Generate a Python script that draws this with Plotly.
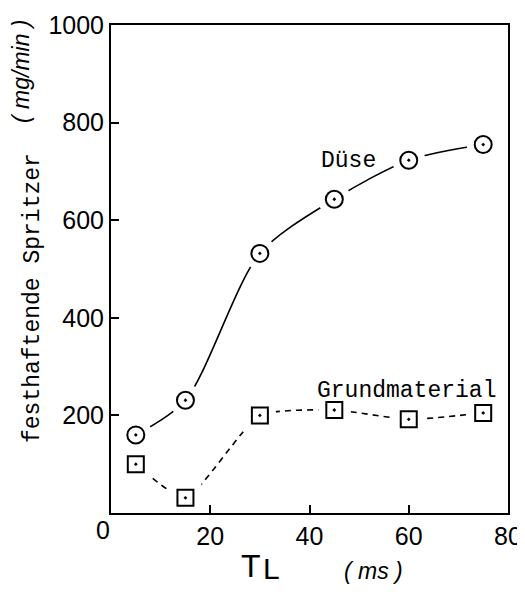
import plotly.graph_objects as go

t_ms = [5, 15, 30, 45, 60, 75]
duese = [160, 231, 532, 643, 723, 755]
grund = [100, 31, 200, 211, 192, 205]
x_ticks = [20, 40, 60, 80]
y_ticks = [200, 400, 600, 800, 1000]

tick_font = dict(family="Liberation Sans", size=25, color="black")
mono = "Liberation Mono"

# page body offset (default html margin)
OX, OY = 7, 8
W, H = 518, 584
L, T = 110 - OX, 25 - OY
R = W - (507 - OX)
B = H - (513 - OY)


def px_x(sx):
    return (sx - OX - L) / (W - L - R)


def px_y(sy):
    return (H - B - (sy - OY)) / (H - T - B)


fig = go.Figure()


def add_series(y, dash, symbol, size, smoothing):
    fig.add_trace(go.Scatter(x=t_ms, y=y, mode="lines",
                             line=dict(color="black", width=1.6, dash=dash, shape="spline", smoothing=smoothing),
                             showlegend=False, hoverinfo="skip"))
    fig.add_trace(go.Scatter(x=t_ms, y=y, mode="markers",
                             marker=dict(symbol=symbol.replace("-open-dot", ""), size=size + 16, color="white",
                                         line=dict(width=0)),
                             showlegend=False, hoverinfo="skip"))
    fig.add_trace(go.Scatter(x=t_ms, y=y, mode="markers",
                             marker=dict(symbol=symbol, size=size, color="black",
                                         line=dict(width=2, color="black")),
                             showlegend=False))


add_series(duese, "solid", "circle-open-dot", 17, 0.8)
add_series(grund, "6px,5px", "square-open-dot", 16, 0.55)

axis_common = dict(showline=True, linecolor="black", linewidth=2, mirror=True,
                   ticks="inside", ticklen=8, tickwidth=1.5, tickcolor="black",
                   showgrid=False, zeroline=False, tickfont=tick_font, automargin=False)

fig.update_layout(
    width=W, height=H,
    margin=dict(l=L, r=R, t=T, b=B),
    plot_bgcolor="white", paper_bgcolor="white",
    xaxis=dict(range=[0, 80], tickvals=x_ticks, ticktext=[str(v) for v in x_ticks], **axis_common),
    yaxis=dict(range=[0, 1000], tickvals=y_ticks, ticktext=[str(v) for v in y_ticks], **axis_common),
)


def note(sx, sy, text, font, angle=0):
    fig.add_annotation(x=px_x(sx), y=px_y(sy), xref="paper", yref="paper", text=text,
                       showarrow=False, xanchor="center", yanchor="middle", textangle=angle, font=font)


note(102, 530, "0", tick_font)
note(347, 161, "Düse", dict(family=mono, size=23, color="black"))
note(405, 391, "Grundmaterial", dict(family=mono, size=23, color="black"))
note(32, 298, "festhaftende Spritzer", dict(family=mono, size=23, color="black"), -90)
note(20, 71, "<i>( mg/min )</i>", dict(family="Liberation Sans", size=23, color="black"), -90)
note(250, 566, "T", dict(family="Liberation Sans", size=32, color="black"))
note(270, 568, "L", dict(family="Liberation Sans", size=30, color="black"))
note(372, 571, "<i>( ms )</i>", dict(family="Liberation Sans", size=23, color="black"))

fig.write_html("out.html")
